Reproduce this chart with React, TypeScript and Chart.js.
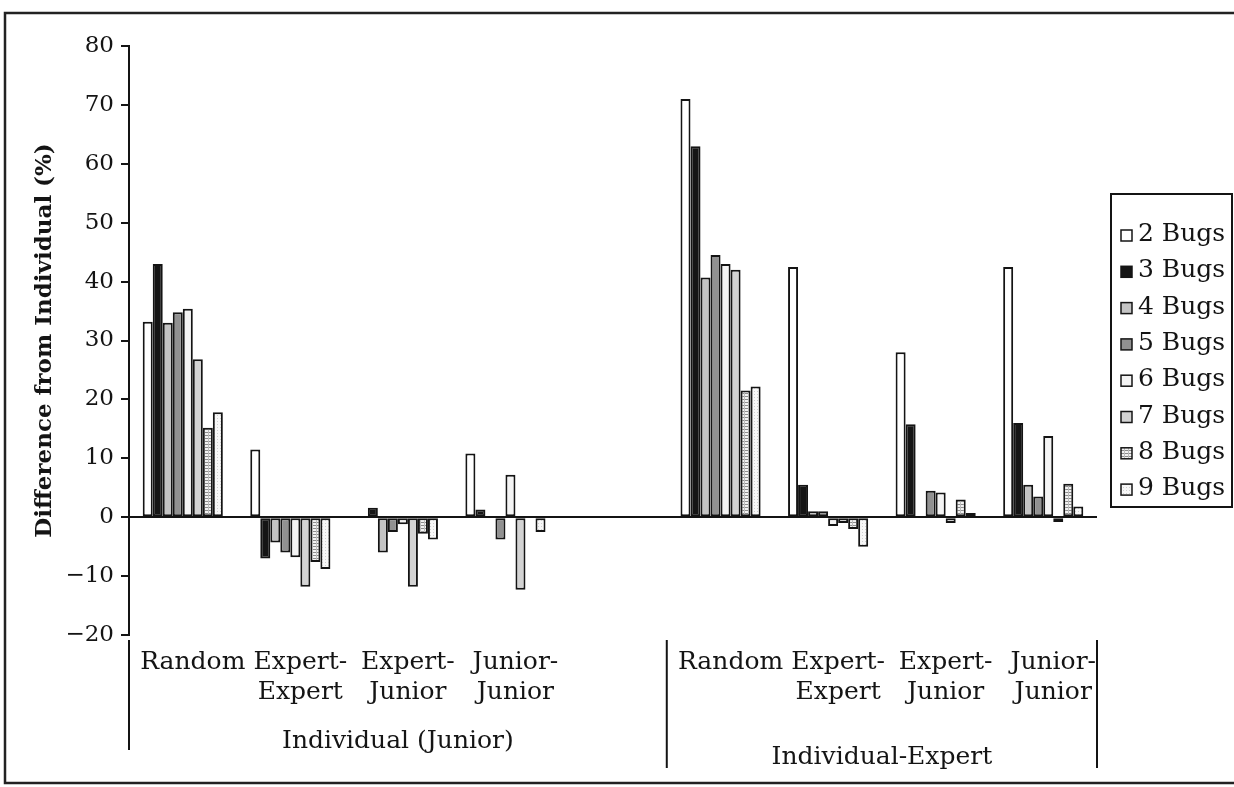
import React, { useEffect, useRef } from 'react';
import { Chart, registerables } from 'chart.js';

Chart.register(...registerables);

// ---------- data ----------
const categories: (string | string[])[] = [
  'Random',
  ['Expert-', 'Expert'],
  ['Expert-', 'Junior'],
  ['Junior-', 'Junior'],
  '',
  'Random',
  ['Expert-', 'Expert'],
  ['Expert-', 'Junior'],
  ['Junior-', 'Junior'],
];

const groupLabels = ['Individual (Junior)', 'Individual-Expert'];
const groupBounds = [0, 5, 9];

const seriesNames = ['2 Bugs', '3 Bugs', '4 Bugs', '5 Bugs', '6 Bugs', '7 Bugs', '8 Bugs', '9 Bugs'];

const bugs2 = [33.2, 11.5, 0, 10.8, null, 71, 42.5, 28, 42.5];
const bugs3 = [43, -7, 1.6, 1.3, null, 63, 5.5, 15.8, 16];
const bugs4 = [33, -4.3, -6, 0, null, 40.7, 1, 0, 5.5];
const bugs5 = [34.8, -6, -2.5, -3.8, null, 44.5, 1, 4.5, 3.5];
const bugs6 = [35.4, -6.8, -1.2, 7.2, null, 43, -1.5, 4.2, 13.8];
const bugs7 = [26.8, -11.8, -11.8, -12.3, null, 42, -1, -1, -0.8];
const bugs8 = [15.2, -7.6, -2.8, 0, null, 21.5, -2, 3, 5.7];
const bugs9 = [17.8, -8.8, -3.8, -2.5, null, 22.2, -5, 0.7, 1.8];

const seriesValues = [bugs2, bugs3, bugs4, bugs5, bugs6, bugs7, bugs8, bugs9];

const yTicks = { min: -20, max: 80, step: 10 };

// ---------- styles ----------
const FONT = '"DejaVu Serif", "Liberation Serif", serif';
const INK = '#141414';

function makePattern(kind: string): CanvasPattern | string {
  const c = document.createElement('canvas');
  const g = c.getContext('2d');
  if (!g) return '#dddddd';
  if (kind === 'hatch') {
    c.width = 4; c.height = 3;
    g.fillStyle = '#f2f2f2'; g.fillRect(0, 0, 4, 3);
    g.fillStyle = '#8c8c8c'; g.fillRect(0, 0, 4, 1);
    g.fillStyle = '#bdbdbd'; g.fillRect(0, 0, 1, 3);
  } else {
    c.width = 3; c.height = 3;
    g.fillStyle = '#f7f7f7'; g.fillRect(0, 0, 3, 3);
    g.fillStyle = '#cfcfcf'; g.fillRect(1, 1, 1, 1);
  }
  return g.createPattern(c, 'repeat') || '#dddddd';
}

const fillKinds = ['#ffffff', '#151515', '#c4c4c4', '#919191', '#f4f4f4', '#d3d3d3', 'hatch', 'dots'];

export default function App() {
  const ref = useRef<HTMLCanvasElement | null>(null);

  useEffect(() => {
    if (!ref.current) return;
    const fills = fillKinds.map((k) => (k.startsWith('#') ? k : makePattern(k)));

    const decor = {
      id: 'decor',
      afterDraw(chart: any) {
        const ctx: CanvasRenderingContext2D = chart.ctx;
        const xs = chart.scales.x;
        const area = chart.chartArea;
        const w = (xs.right - xs.left) / categories.length;
        ctx.save();
        // group dividers
        ctx.strokeStyle = INK;
        ctx.lineWidth = 2;
        groupBounds.forEach((b, i) => {
          const x = xs.left + b * w;
          const len = i === 0 ? 110 : 128;
          ctx.beginPath();
          ctx.moveTo(x, area.bottom + 5);
          ctx.lineTo(x, area.bottom + 5 + len);
          ctx.stroke();
        });
        // group labels
        ctx.font = '25px ' + FONT;
        ctx.fillStyle = INK;
        ctx.textAlign = 'center';
        ctx.textBaseline = 'middle';
        groupLabels.forEach((lab, i) => {
          const x0 = xs.left + groupBounds[i] * w;
          const x1 = xs.left + groupBounds[i + 1] * w;
          ctx.fillText(lab, (x0 + x1) / 2, area.bottom + (i === 0 ? 106 : 122));
        });
        // legend
        const lx = 1111, ly = 194, lw = 121, lh = 313;
        ctx.lineWidth = 2;
        ctx.strokeRect(lx, ly, lw, lh);
        ctx.textAlign = 'left';
        ctx.textBaseline = 'alphabetic';
        chart.data.datasets.forEach((ds: any, i: number) => {
          const base = 241 + i * 36.3;
          ctx.fillStyle = ds.backgroundColor;
          ctx.fillRect(lx + 10, base - 11, 11, 11);
          ctx.lineWidth = 1.5;
          ctx.strokeStyle = INK;
          ctx.strokeRect(lx + 10, base - 11, 11, 11);
          ctx.fillStyle = INK;
          ctx.fillText(ds.label, lx + 27, base);
        });
        // outer frame
        ctx.lineWidth = 2.5;
        ctx.strokeStyle = '#222';
        ctx.strokeRect(5, 13, 1240, 770);
        ctx.restore();
      },
    };

    const chart = new Chart(ref.current, {
      type: 'bar',
      data: {
        labels: categories as any,
        datasets: seriesValues.map((vals, i) => ({
          label: seriesNames[i],
          data: vals as any,
          backgroundColor: fills[i] as any,
          borderColor: INK,
          borderWidth: 2,
          borderSkipped: false,
          categoryPercentage: 0.745,
          barPercentage: 1.0,
        })),
      },
      options: {
        animation: false,
        responsive: false,
        maintainAspectRatio: false,
        layout: { padding: { left: 31, top: 46, right: 137, bottom: 0 } },
        plugins: {
          legend: { display: false },
          tooltip: { enabled: false },
        },
        scales: {
          x: {
            type: 'category',
            grid: { display: false, drawTicks: false },
            border: { display: false },
            ticks: {
              color: INK,
              font: { family: FONT, size: 25, lineHeight: 1.2 },
              padding: 12,
              labelOffset: 10,
              autoSkip: false,
              maxRotation: 0,
              minRotation: 0,
            },
            afterFit: (s: any) => { s.height = 152; },
          },
          y: {
            min: yTicks.min,
            max: yTicks.max,
            grid: {
              drawOnChartArea: true,
              color: (c: any) => (c.tick && c.tick.value === 0 ? INK : 'rgba(0,0,0,0)'),
              lineWidth: 2,
              tickColor: INK,
              tickWidth: 2,
              tickLength: 8,
            },
            border: { display: true, color: INK, width: 2 },
            ticks: {
              stepSize: yTicks.step,
              color: INK,
              padding: 7,
              font: { family: FONT, size: 23 },
              callback: (v: any) => (Number(v) < 0 ? '\u2212' + Math.abs(Number(v)) : String(v)),
            },
            title: {
              display: true,
              text: 'Difference from Individual (%)',
              color: INK,
              padding: { top: 0, bottom: 0 },
              font: { family: FONT, size: 23, weight: 'bold', lineHeight: 1.2 },
            },
            afterFit: (s: any) => { s.width = 129 - 31; },
          },
        },
      } as any,
      plugins: [decor],
    });
    return () => chart.destroy();
  }, []);

  return (
    <div style={{ position: 'fixed', left: 0, top: 0, width: 1234, height: 787, background: '#fff' }}>
      <canvas ref={ref} width={1234} height={787} style={{ width: 1234, height: 787, display: 'block' }} />
    </div>
  );
}
